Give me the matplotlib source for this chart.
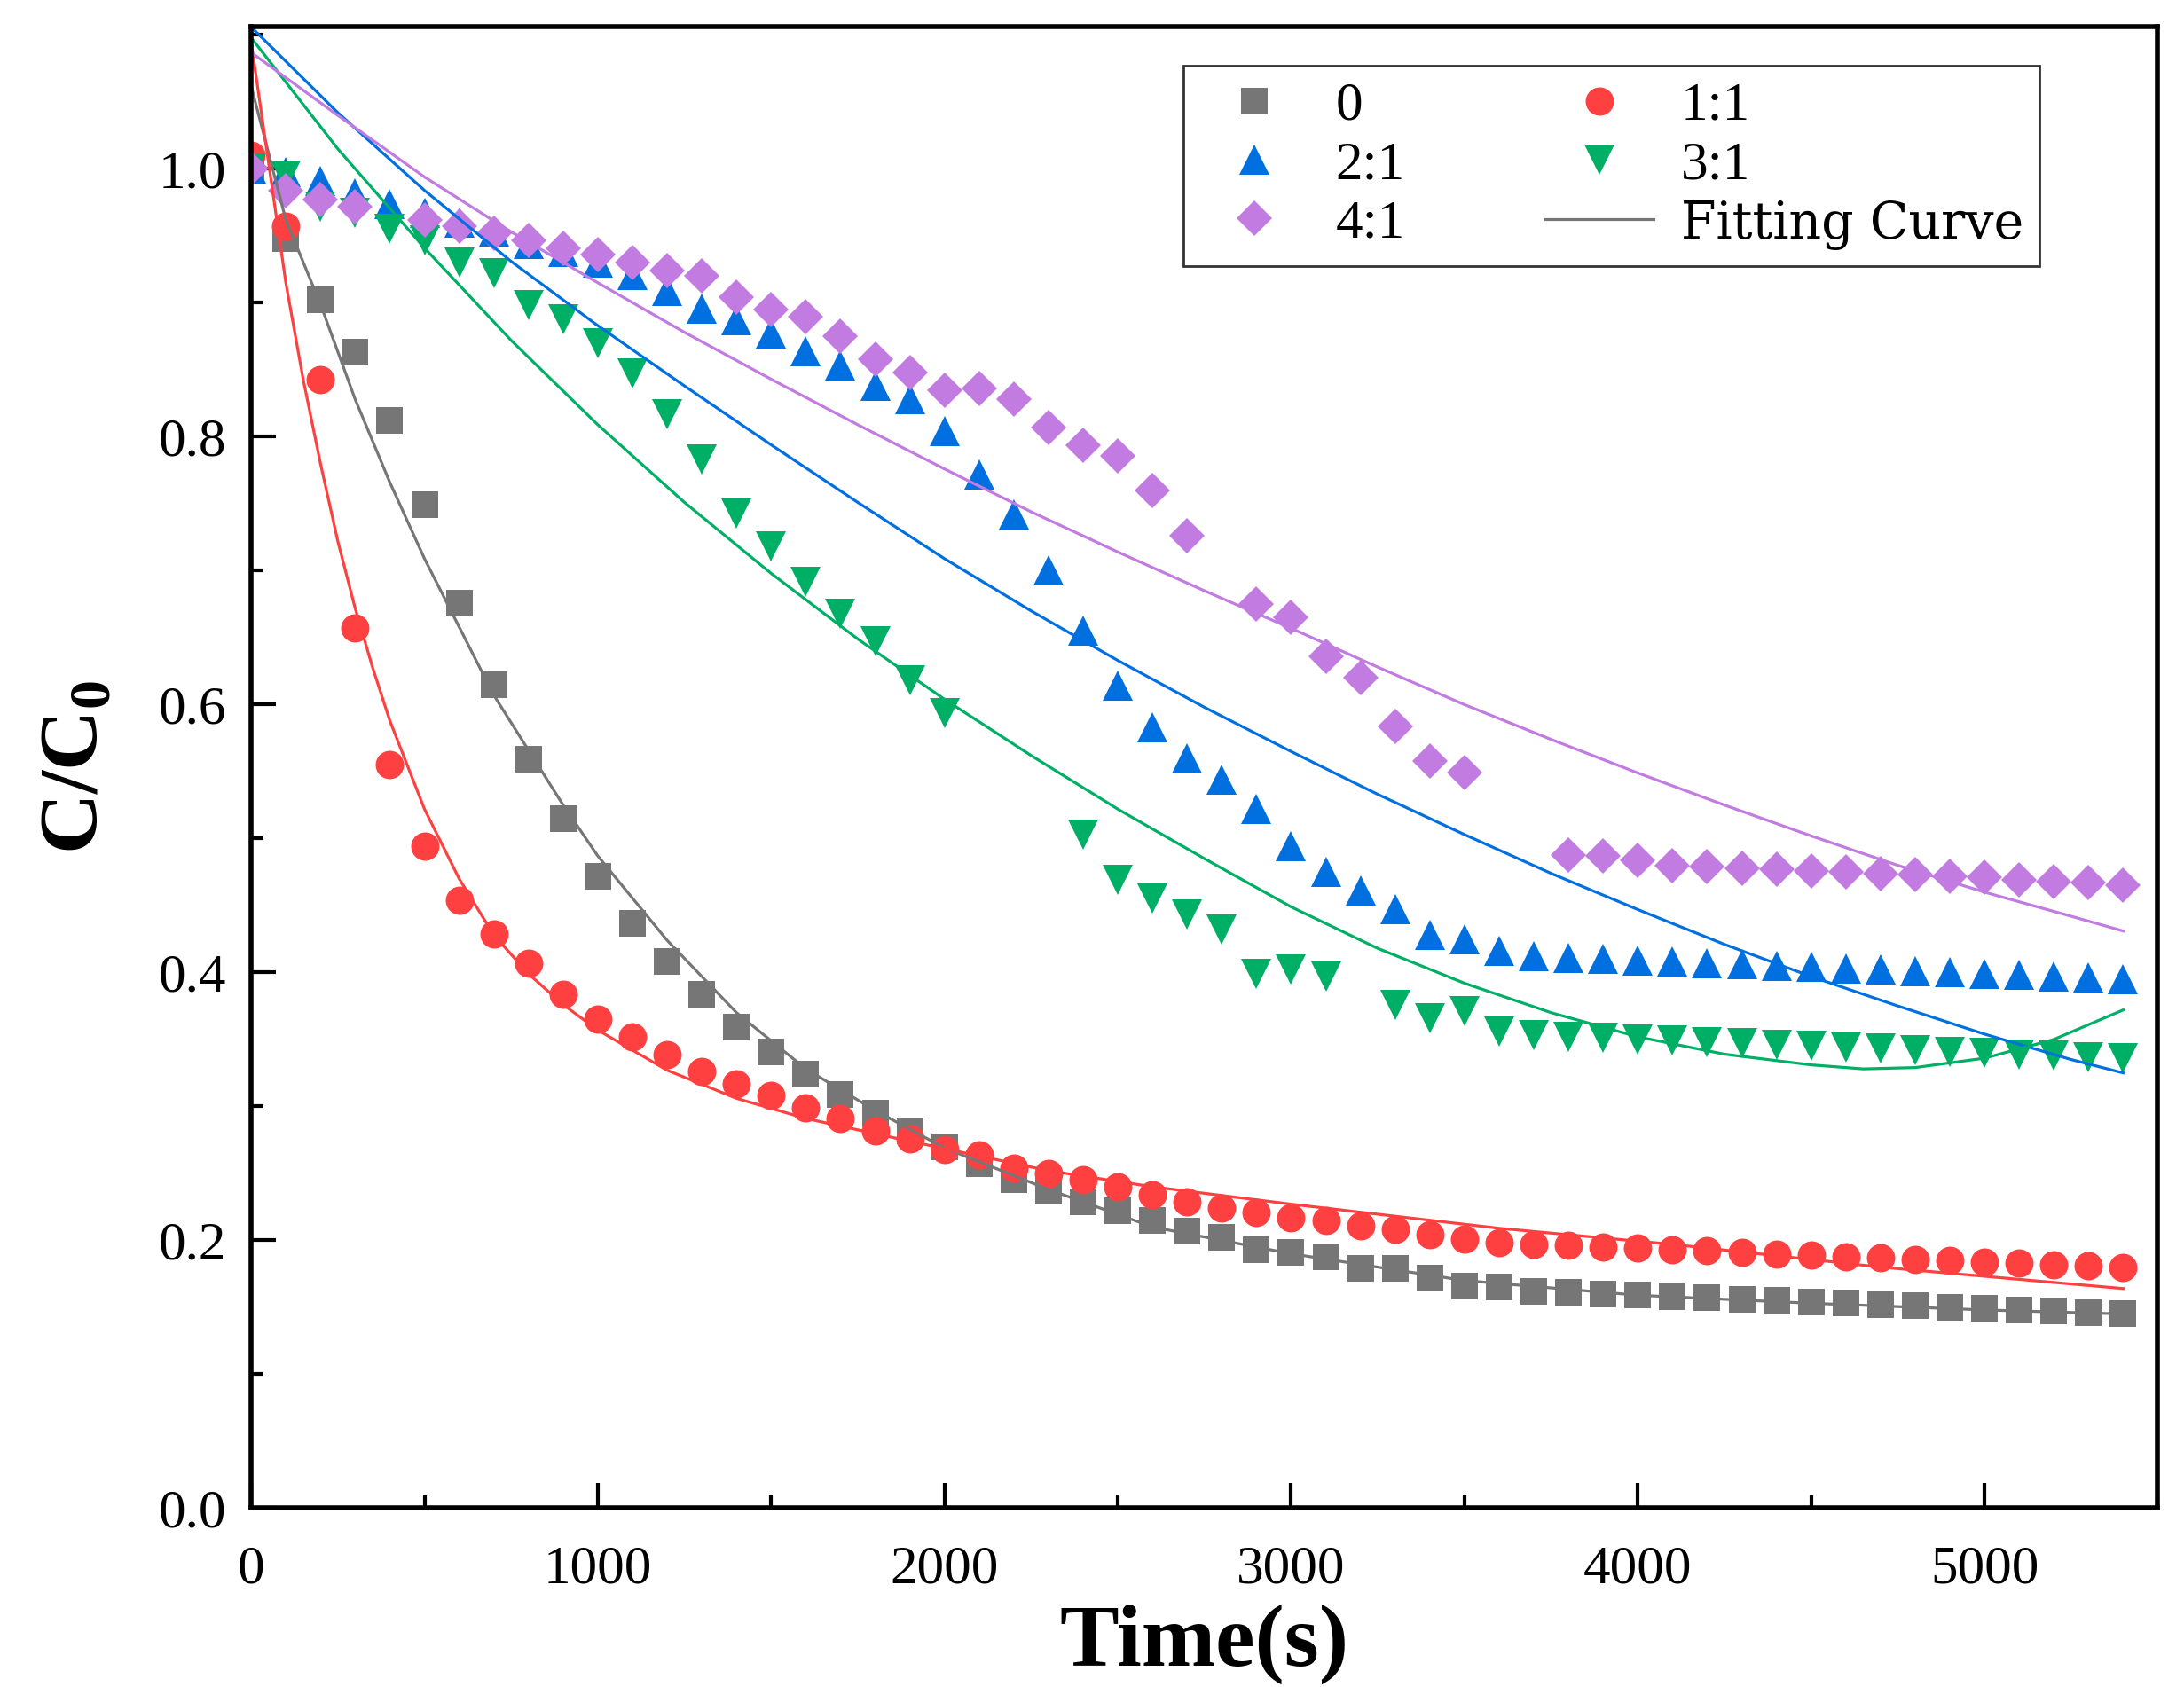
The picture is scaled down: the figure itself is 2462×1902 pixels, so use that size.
import numpy as np
import matplotlib
matplotlib.use("Agg")
import matplotlib.pyplot as plt
from matplotlib.lines import Line2D
from matplotlib.ticker import MultipleLocator, FormatStrFormatter

plt.rcParams['font.family'] = ['Liberation Serif', 'DejaVu Serif']
plt.rcParams['mathtext.fontset'] = 'custom'
plt.rcParams['mathtext.rm'] = 'Liberation Serif'
plt.rcParams['mathtext.bf'] = 'Liberation Serif:bold'

# ---- measured points (time in s, C/C0) ----
time = [0, 100, 200, 300, 400, 500, 600, 700, 800, 900,
        1000, 1100, 1200, 1300, 1400, 1500, 1600, 1700, 1800, 1900,
        2000, 2100, 2200, 2300, 2400, 2500, 2600, 2700, 2800, 2900,
        3000, 3100, 3200, 3300, 3400, 3500, 3600, 3700, 3800, 3900,
        4000, 4100, 4200, 4300, 4400, 4500, 4600, 4700, 4800, 4900,
        5000, 5100, 5200, 5300, 5400]
nan = np.nan

c_0 = [1.000, 0.948, 0.902, 0.863, 0.812, 0.749, 0.676, 0.615, 0.559, 0.515,
       0.472, 0.437, 0.408, 0.384, 0.359, 0.341, 0.324, 0.309, 0.295, 0.282,
       0.270, 0.257, 0.245, 0.237, 0.229, 0.222, 0.215, 0.207, 0.202, 0.193,
       0.191, 0.188, 0.179, 0.179, 0.172, 0.166, 0.165, 0.162, 0.161, 0.160,
       0.159, 0.158, 0.157, 0.156, 0.155, 0.154, 0.153, 0.152, 0.151, 0.150,
       0.149, 0.148, 0.147, 0.146, 0.145]
c_11 = [1.010, 0.957, 0.843, 0.657, 0.555, 0.494, 0.454, 0.429, 0.407, 0.384,
        0.365, 0.352, 0.339, 0.326, 0.317, 0.308, 0.299, 0.291, 0.282, 0.276,
        0.268, 0.264, 0.254, 0.250, 0.245, 0.240, 0.234, 0.229, 0.224, 0.221,
        0.217, 0.215, 0.211, 0.208, 0.204, 0.201, 0.198, 0.197, 0.196, 0.195,
        0.194, 0.193, 0.192, 0.191, 0.190, 0.189, 0.188, 0.187, 0.186, 0.185,
        0.184, 0.183, 0.182, 0.181, 0.180]
c_21 = [1.000, 0.998, 0.991, 0.982, 0.974, 0.967, 0.960, 0.953, 0.944, 0.938,
        0.930, 0.921, 0.909, 0.896, 0.887, 0.877, 0.864, 0.853, 0.838, 0.828,
        0.804, 0.772, 0.742, 0.700, 0.655, 0.614, 0.583, 0.560, 0.544, 0.522,
        0.494, 0.475, 0.461, 0.447, 0.428, 0.425, 0.416, 0.412, 0.411, 0.410,
        0.409, 0.408, 0.407, 0.406, 0.405, 0.404, 0.403, 0.402, 0.401, 0.400,
        0.399, 0.398, 0.397, 0.396, 0.395]
c_31 = [1.000, 0.995, 0.972, 0.967, 0.955, 0.947, 0.930, 0.922, 0.898, 0.888,
        0.870, 0.847, 0.817, 0.783, 0.743, 0.718, 0.692, 0.668, 0.647, 0.618,
        0.594, nan, nan, nan, 0.503, 0.469, 0.455, 0.443, 0.432, 0.399,
        0.402, 0.397, nan, 0.376, 0.366, 0.371, 0.356, 0.353, 0.352, 0.351,
        0.350, 0.349, 0.348, 0.347, 0.346, 0.345, 0.344, 0.343, 0.342, 0.341,
        0.340, 0.339, 0.338, 0.337, 0.336]
c_41 = [1.000, 0.984, 0.977, 0.972, nan, 0.962, 0.957, 0.952, 0.947, 0.941,
        0.936, 0.930, 0.924, 0.920, 0.904, 0.895, 0.890, 0.875, 0.858, 0.848,
        0.835, 0.836, 0.828, 0.807, 0.794, 0.786, 0.760, 0.726, nan, 0.675,
        0.665, 0.636, 0.620, 0.584, 0.558, 0.549, nan, nan, 0.488, 0.487,
        0.484, 0.480, 0.479, 0.478, 0.477, 0.476, 0.475, 0.474, 0.473, 0.472,
        0.471, 0.469, 0.468, 0.467, 0.465]

# ---- fitting curves ----
fit_t_0 = [0, 100, 200, 300, 400, 500, 600, 700, 800, 900, 1000, 1200, 1400,
           1600, 1800, 2000, 2300, 2600, 3000, 3500, 4000, 4500, 5000, 5400]
fit_0 = [1.062, 0.962, 0.899, 0.828, 0.766, 0.709, 0.658, 0.607, 0.566, 0.525,
         0.487, 0.424, 0.370, 0.328, 0.297, 0.269, 0.238, 0.210, 0.190, 0.170,
         0.159, 0.153, 0.148, 0.145]

fit_t_11 = [0, 50, 100, 150, 200, 250, 300, 350, 400, 500, 600, 700, 800, 900,
            1000, 1200, 1400, 1600, 1900, 2300, 2600, 3000, 3600, 4100, 4700, 5400]
fit_11 = [1.095, 1.005, 0.915, 0.843, 0.780, 0.722, 0.672, 0.628, 0.588, 0.522,
          0.470, 0.428, 0.399, 0.376, 0.357, 0.327, 0.306, 0.291, 0.274, 0.252,
          0.240, 0.227, 0.209, 0.197, 0.180, 0.164]

fit_t = [0, 250, 500, 750, 1000, 1250, 1500, 1750, 2000, 2250, 2500, 2750,
         3000, 3250, 3500, 3750, 4000, 4250, 4500, 4750, 5000, 5250, 5400]
fit_21 = [1.106, 1.042, 0.984, 0.931, 0.883, 0.838, 0.794, 0.751, 0.709, 0.670,
          0.633, 0.598, 0.565, 0.533, 0.503, 0.474, 0.447, 0.421, 0.397, 0.375,
          0.354, 0.335, 0.325]
fit_41 = [1.087, 1.040, 0.994, 0.953, 0.915, 0.878, 0.843, 0.809, 0.776, 0.744,
          0.714, 0.685, 0.657, 0.628, 0.600, 0.574, 0.549, 0.525, 0.502, 0.480,
          0.460, 0.442, 0.431]

fit_t_31 = [0, 250, 500, 750, 1000, 1250, 1500, 1750, 2000, 2250, 2500, 2750,
            3000, 3250, 3500, 3750, 4000, 4250, 4500, 4650, 4800, 5000, 5200, 5400]
fit_31 = [1.098, 1.015, 0.941, 0.872, 0.809, 0.751, 0.698, 0.649, 0.604, 0.562,
          0.522, 0.485, 0.449, 0.418, 0.392, 0.370, 0.352, 0.339, 0.331, 0.328,
          0.329, 0.336, 0.350, 0.372]

c_gray = '#767676'
c_red = '#ff4040'
c_blue = '#0070e0'
c_green = '#00af66'
c_purple = '#c27be0'

fig = plt.figure(figsize=(24.62, 19.02), dpi=100)
ax = fig.add_axes([0.115, 0.106, 0.873, 0.878])

ax.plot(time, c_0, 's', ms=21, color=c_gray, mew=0, label='0')
ax.plot(time, c_11, 'o', ms=23, color=c_red, mew=0, label='1:1')
ax.plot(time, c_21, '^', ms=25, color=c_blue, mew=0, label='2:1')
ax.plot(time, c_31, 'v', ms=25, color=c_green, mew=0, label='3:1')
ax.plot(time, c_41, 'D', ms=20, color=c_purple, mew=0, label='4:1')

ax.plot(fit_t_0, fit_0, '-', lw=2.3, color=c_gray)
ax.plot(fit_t_11, fit_11, '-', lw=2.3, color=c_red)
ax.plot(fit_t, fit_21, '-', lw=2.3, color=c_blue)
ax.plot(fit_t_31, fit_31, '-', lw=2.3, color=c_green)
ax.plot(fit_t, fit_41, '-', lw=2.3, color=c_purple)

ax.set_xlim(0, 5500)
ax.set_ylim(0, 1.106)
ax.xaxis.set_major_locator(MultipleLocator(1000))
ax.xaxis.set_minor_locator(MultipleLocator(500))
ax.yaxis.set_major_locator(MultipleLocator(0.2))
ax.yaxis.set_minor_locator(MultipleLocator(0.1))
ax.yaxis.set_major_formatter(FormatStrFormatter('%.1f'))

for s in ax.spines.values():
    s.set_linewidth(4)
ax.tick_params(which='both', direction='in', top=False, right=False,
               width=3, labelsize=44)
ax.tick_params(which='major', length=20)
ax.tick_params(which='minor', length=10)
ax.tick_params(axis='x', pad=30)
ax.tick_params(axis='y', pad=20)

ax.set_xlabel('Time(s)', fontsize=72, fontweight='bold', labelpad=8)
ax.set_ylabel('C/C$_\\mathbf{0}$', fontsize=68, fontweight='bold', labelpad=36)

h, l = ax.get_legend_handles_labels()
fit_handle = Line2D([], [], color=c_gray, lw=2.3)
order = [0, 2, 4, 1, 3]
handles = [h[i] for i in order] + [fit_handle]
labels = [l[i] for i in order] + ['Fitting Curve']
leg = ax.legend(handles, labels, ncol=2, mode='expand', loc='upper left',
                bbox_to_anchor=(0.489, 0.837, 0.449, 0.137),
                fontsize=44, frameon=True, fancybox=False, numpoints=1,
                handlelength=2.0, handletextpad=0.5, labelspacing=0.17,
                borderpad=0.3, borderaxespad=0.0)
leg.get_frame().set_edgecolor('black')
leg.get_frame().set_linewidth(2)
leg.get_texts()[5].set_family(['DejaVu Serif'])
leg.get_texts()[5].set_fontsize(41)

fig.savefig('out.png', dpi=100)
